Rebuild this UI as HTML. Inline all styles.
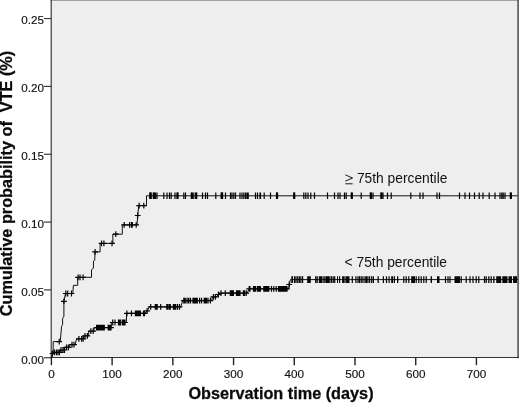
<!DOCTYPE html>
<html><head><meta charset="utf-8"><title>Cumulative probability of VTE</title>
<style>
html,body{margin:0;padding:0;background:#fff;}
body{width:520px;height:404px;overflow:hidden;font-family:"Liberation Sans",sans-serif;}
svg{display:block;will-change:transform;}
text{font-family:"Liberation Sans",sans-serif;fill:#111;}
.tk{font-size:11.7px;stroke:#111;stroke-width:0.15px;}
.lb{font-size:13.8px;}
.ti{font-size:16.25px;font-weight:bold;fill:#0a0a0a;stroke:#0a0a0a;stroke-width:0.28px;}
.ax{stroke:#333;stroke-width:1.15;fill:none;}
.ln{stroke:#111;stroke-width:1.0;fill:none;stroke-linejoin:miter;}
.mk{stroke:#050505;stroke-width:1.2;fill:none;}
.mk2{stroke:#000;stroke-width:2.2;fill:none;}
</style></head><body>
<svg width="520" height="404" viewBox="0 0 520 404">
<rect x="0" y="0" width="520" height="404" fill="#ffffff"/>
<rect x="51.2" y="0" width="467" height="357.5" fill="#eeeeee"/>
<line x1="50.5" x2="519" y1="0.3" y2="0.3" stroke="#888" stroke-width="1.1"/>
<line x1="518.1" x2="518.1" y1="0" y2="358.2" stroke="#555" stroke-width="1.6"/>
<line x1="51.2" x2="51.2" y1="0" y2="358.2" class="ax"/>
<line x1="50.5" x2="518.9" y1="357.5" y2="357.5" class="ax"/>
<line x1="44" x2="51.5" y1="357.75" y2="357.75" class="ax"/>
<text x="43.9" y="364.00" text-anchor="end" class="tk">0.00</text>
<line x1="44" x2="51.5" y1="289.91" y2="289.91" class="ax"/>
<text x="43.9" y="295.56" text-anchor="end" class="tk">0.05</text>
<line x1="44" x2="51.5" y1="222.07" y2="222.07" class="ax"/>
<text x="43.9" y="227.72" text-anchor="end" class="tk">0.10</text>
<line x1="44" x2="51.5" y1="154.23" y2="154.23" class="ax"/>
<text x="43.9" y="159.88" text-anchor="end" class="tk">0.15</text>
<line x1="44" x2="51.5" y1="86.39" y2="86.39" class="ax"/>
<text x="43.9" y="92.04" text-anchor="end" class="tk">0.20</text>
<line x1="44" x2="51.5" y1="18.55" y2="18.55" class="ax"/>
<text x="43.9" y="24.20" text-anchor="end" class="tk">0.25</text>
<line x1="51.40" x2="51.40" y1="357.5" y2="365.2" class="ax" style="stroke:#222;stroke-width:1.4"/>
<text x="51.40" y="377.8" text-anchor="middle" class="tk">0</text>
<line x1="112.12" x2="112.12" y1="357.5" y2="365.2" class="ax" style="stroke:#222;stroke-width:1.4"/>
<text x="112.12" y="377.8" text-anchor="middle" class="tk">100</text>
<line x1="172.84" x2="172.84" y1="357.5" y2="365.2" class="ax" style="stroke:#222;stroke-width:1.4"/>
<text x="172.84" y="377.8" text-anchor="middle" class="tk">200</text>
<line x1="233.56" x2="233.56" y1="357.5" y2="365.2" class="ax" style="stroke:#222;stroke-width:1.4"/>
<text x="233.56" y="377.8" text-anchor="middle" class="tk">300</text>
<line x1="294.28" x2="294.28" y1="357.5" y2="365.2" class="ax" style="stroke:#222;stroke-width:1.4"/>
<text x="294.28" y="377.8" text-anchor="middle" class="tk">400</text>
<line x1="355.00" x2="355.00" y1="357.5" y2="365.2" class="ax" style="stroke:#222;stroke-width:1.4"/>
<text x="355.00" y="377.8" text-anchor="middle" class="tk">500</text>
<line x1="415.72" x2="415.72" y1="357.5" y2="365.2" class="ax" style="stroke:#222;stroke-width:1.4"/>
<text x="415.72" y="377.8" text-anchor="middle" class="tk">600</text>
<line x1="476.44" x2="476.44" y1="357.5" y2="365.2" class="ax" style="stroke:#222;stroke-width:1.4"/>
<text x="476.44" y="377.8" text-anchor="middle" class="tk">700</text>
<path d="M51.5,357.5 L53.2,353.0 L53.2,341.6 L60.2,341.6 L61.2,331.0 L61.5,326.5 L62.6,324.5 L62.6,318.5 L63.9,316.2 L63.9,301.4 L65.5,293.5 L72.8,293.5 L73.4,285.3 L77.7,285.3 L77.7,277.3 L91.5,277.3 L91.5,270.0 L93.4,268.0 L93.5,261.0 L94.7,260.3 L95.1,251.9 L100.1,251.9 L100.1,243.4 L113.0,243.4 L112.8,234.2 L122.3,234.2 L122.3,224.9 L137.0,224.9 L137.7,215.5 L138.5,208.0 L138.7,205.6 L146.5,205.6 L146.5,195.8 L518.0,195.8" class="ln"/>
<path d="M51.5,357.5 L52.3,355.0 L53.5,352.3 L60.0,352.3 L60.3,350.0 L64.5,350.0 L64.8,347.3 L69.5,347.3 L69.8,344.6 L75.1,344.6 L76.6,338.9 L83.5,338.9 L83.7,335.8 L88.5,335.8 L88.8,331.2 L93.9,331.2 L94.2,327.7 L111.0,327.7 L111.5,322.5 L126.3,322.5 L126.7,313.3 L145.0,313.3 L147.2,310.8 L149.5,306.9 L180.8,306.9 L182.7,300.6 L211.8,300.6 L212.3,296.9 L216.5,296.9 L218.4,294.5 L219.5,293.1 L247.0,293.1 L249.2,288.8 L288.5,288.8 L290.4,279.6 L518.0,279.6" class="ln"/>
<path d="M56.3,341.6h5.8M59.2,338.7v5.8M61.0,301.4h5.8M63.9,298.5v5.8M62.9,293.5h5.8M65.8,290.6v5.8M64.8,293.5h5.8M67.7,290.6v5.8M68.6,293.5h5.8M71.5,290.6v5.8M75.2,277.3h5.8M78.1,274.4v5.8M77.1,277.3h5.8M80.0,274.4v5.8M80.2,277.3h5.8M83.1,274.4v5.8M92.2,251.9h5.8M95.1,249.0v5.8M98.7,243.4h5.8M101.6,240.5v5.8M101.0,243.4h5.8M103.9,240.5v5.8M109.1,243.4h5.8M112.0,240.5v5.8M112.9,234.2h5.8M115.8,231.3v5.8M121.3,224.9h5.8M124.2,222.0v5.8M126.7,224.9h5.8M129.6,222.0v5.8M128.6,224.9h5.8M131.5,222.0v5.8M129.4,224.9h5.8M132.3,222.0v5.8M133.3,224.9h5.8M136.2,222.0v5.8M134.8,215.5h5.8M137.7,212.6v5.8M136.3,205.6h5.8M139.2,202.7v5.8M140.9,205.6h5.8M143.8,202.7v5.8M49.6,353.5h5.8M52.5,350.6v5.8M51.6,352.3h5.8M54.5,349.4v5.8M53.6,352.3h5.8M56.5,349.4v5.8M55.1,352.3h5.8M58.0,349.4v5.8M56.6,352.3h5.8M59.5,349.4v5.8M58.1,350.0h5.8M61.0,347.1v5.8M60.1,350.0h5.8M63.0,347.1v5.8M61.6,350.0h5.8M64.5,347.1v5.8M63.6,347.3h5.8M66.5,344.4v5.8M65.5,347.3h5.8M68.4,344.4v5.8M69.1,344.6h5.8M72.0,341.7v5.8M71.1,344.6h5.8M74.0,341.7v5.8M76.0,338.9h5.8M78.9,336.0v5.8M78.7,338.9h5.8M81.6,336.0v5.8M80.3,338.9h5.8M83.2,336.0v5.8M82.1,335.8h5.8M85.0,332.9v5.8M84.5,335.8h5.8M87.4,332.9v5.8M87.9,331.2h5.8M90.8,328.3v5.8M90.3,331.2h5.8M93.2,328.3v5.8M93.7,327.7h5.8M96.6,324.8v5.8M94.7,327.7h5.8M97.6,324.8v5.8M95.7,327.7h5.8M98.6,324.8v5.8M96.7,327.7h5.8M99.6,324.8v5.8M97.7,327.7h5.8M100.6,324.8v5.8M98.7,327.7h5.8M101.6,324.8v5.8M99.7,327.7h5.8M102.6,324.8v5.8M100.7,327.7h5.8M103.6,324.8v5.8M101.4,327.7h5.8M104.3,324.8v5.8M105.3,327.7h5.8M108.2,324.8v5.8M106.3,327.7h5.8M109.2,324.8v5.8M107.3,327.7h5.8M110.2,324.8v5.8M108.1,327.7h5.8M111.0,324.8v5.8M109.8,322.5h5.8M112.7,319.6v5.8M112.1,322.5h5.8M115.0,319.6v5.8M115.6,322.5h5.8M118.5,319.6v5.8M116.5,322.5h5.8M119.4,319.6v5.8M117.5,322.5h5.8M120.4,319.6v5.8M119.4,322.5h5.8M122.3,319.6v5.8M120.3,322.5h5.8M123.2,319.6v5.8M121.2,322.5h5.8M124.1,319.6v5.8M122.1,322.5h5.8M125.0,319.6v5.8M124.0,313.3h5.8M126.9,310.4v5.8M128.6,313.3h5.8M131.5,310.4v5.8M132.5,313.3h5.8M135.4,310.4v5.8M133.5,313.3h5.8M136.4,310.4v5.8M134.5,313.3h5.8M137.4,310.4v5.8M135.5,313.3h5.8M138.4,310.4v5.8M136.5,313.3h5.8M139.4,310.4v5.8M137.5,313.3h5.8M140.4,310.4v5.8M140.6,313.3h5.8M143.5,310.4v5.8M141.6,313.3h5.8M144.5,310.4v5.8M144.3,310.8h5.8M147.2,307.9v5.8M147.8,306.9h5.8M150.7,304.0v5.8M152.4,306.9h5.8M155.3,304.0v5.8M153.3,306.9h5.8M156.2,304.0v5.8M154.3,306.9h5.8M157.2,304.0v5.8M157.8,306.9h5.8M160.7,304.0v5.8M163.9,306.9h5.8M166.8,304.0v5.8M164.9,306.9h5.8M167.8,304.0v5.8M166.4,306.9h5.8M169.3,304.0v5.8M167.4,306.9h5.8M170.3,304.0v5.8M170.5,306.9h5.8M173.4,304.0v5.8M171.6,306.9h5.8M174.5,304.0v5.8M172.8,306.9h5.8M175.7,304.0v5.8M174.6,306.9h5.8M177.5,304.0v5.8M176.6,306.9h5.8M179.5,304.0v5.8M180.9,300.6h5.8M183.8,297.7v5.8M181.7,300.6h5.8M184.6,297.7v5.8M183.1,300.6h5.8M186.0,297.7v5.8M185.0,300.6h5.8M187.9,297.7v5.8M185.9,300.6h5.8M188.8,297.7v5.8M187.6,300.6h5.8M190.5,297.7v5.8M190.1,300.6h5.8M193.0,297.7v5.8M191.1,300.6h5.8M194.0,297.7v5.8M192.1,300.6h5.8M195.0,297.7v5.8M193.3,300.6h5.8M196.2,297.7v5.8M194.4,300.6h5.8M197.3,297.7v5.8M196.7,300.6h5.8M199.6,297.7v5.8M198.6,300.6h5.8M201.5,297.7v5.8M201.3,300.6h5.8M204.2,297.7v5.8M202.4,300.6h5.8M205.3,297.7v5.8M203.6,300.6h5.8M206.5,297.7v5.8M205.1,300.6h5.8M208.0,297.7v5.8M207.5,300.6h5.8M210.4,297.7v5.8M210.5,296.9h5.8M213.4,294.0v5.8M212.4,296.9h5.8M215.3,294.0v5.8M215.5,294.5h5.8M218.4,291.6v5.8M218.1,293.1h5.8M221.0,290.2v5.8M222.4,293.1h5.8M225.3,290.2v5.8M227.4,293.1h5.8M230.3,290.2v5.8M228.4,293.1h5.8M231.3,290.2v5.8M229.5,293.1h5.8M232.4,290.2v5.8M230.5,293.1h5.8M233.4,290.2v5.8M233.6,293.1h5.8M236.5,290.2v5.8M234.7,293.1h5.8M237.6,290.2v5.8M235.9,293.1h5.8M238.8,290.2v5.8M237.1,293.1h5.8M240.0,290.2v5.8M240.5,293.1h5.8M243.4,290.2v5.8M241.6,293.1h5.8M244.5,290.2v5.8M243.3,293.1h5.8M246.2,290.2v5.8M246.3,288.8h5.8M249.2,285.9v5.8M247.1,288.8h5.8M250.0,285.9v5.8M250.6,288.8h5.8M253.5,285.9v5.8M251.5,288.8h5.8M254.4,285.9v5.8M252.5,288.8h5.8M255.4,285.9v5.8M254.4,288.8h5.8M257.3,285.9v5.8M255.4,288.8h5.8M258.3,285.9v5.8M256.4,288.8h5.8M259.3,285.9v5.8M257.5,288.8h5.8M260.4,285.9v5.8M260.9,288.8h5.8M263.8,285.9v5.8M261.9,288.8h5.8M264.8,285.9v5.8M262.9,288.8h5.8M265.8,285.9v5.8M263.9,288.8h5.8M266.8,285.9v5.8M264.9,288.8h5.8M267.8,285.9v5.8M265.9,288.8h5.8M268.8,285.9v5.8M268.6,288.8h5.8M271.5,285.9v5.8M270.9,288.8h5.8M273.8,285.9v5.8M273.3,288.8h5.8M276.2,285.9v5.8M275.6,288.8h5.8M278.5,285.9v5.8M276.7,288.8h5.8M279.6,285.9v5.8M277.8,288.8h5.8M280.7,285.9v5.8M278.9,288.8h5.8M281.8,285.9v5.8M280.0,288.8h5.8M282.9,285.9v5.8M281.1,288.8h5.8M284.0,285.9v5.8M282.2,288.8h5.8M285.1,285.9v5.8M283.3,288.8h5.8M286.2,285.9v5.8M284.1,288.8h5.8M287.0,285.9v5.8M286.3,284.5h5.8M289.2,281.6v5.8M150.0,192.5v6.6M151.0,192.5v6.6M153.8,192.5v6.6M155.5,192.5v6.6M157.0,192.5v6.6M163.8,192.5v6.6M167.0,192.5v6.6M169.5,192.5v6.6M171.2,192.5v6.6M175.0,192.5v6.6M177.5,192.5v6.6M183.8,192.5v6.6M185.5,192.5v6.6M191.8,192.5v6.6M193.8,192.5v6.6M196.2,192.5v6.6M202.5,192.5v6.6M205.5,192.5v6.6M207.5,192.5v6.6M215.8,192.5v6.6M221.2,192.5v6.6M222.5,192.5v6.6M225.5,192.5v6.6M230.5,192.5v6.6M232.0,192.5v6.6M233.8,192.5v6.6M235.5,192.5v6.6M240.0,192.5v6.6M242.0,192.5v6.6M243.8,192.5v6.6M245.5,192.5v6.6M247.0,192.5v6.6M248.2,192.5v6.6M255.5,192.5v6.6M257.5,192.5v6.6M260.0,192.5v6.6M264.2,192.5v6.6M260.5,192.5v6.6M264.2,192.5v6.6M270.5,192.5v6.6M277.0,192.5v6.6M294.2,192.5v6.6M303.8,192.5v6.6M305.8,192.5v6.6M308.0,192.5v6.6M310.8,192.5v6.6M314.5,192.5v6.6M327.5,192.5v6.6M334.5,192.5v6.6M338.0,192.5v6.6M340.0,192.5v6.6M344.5,192.5v6.6M346.2,192.5v6.6M351.8,192.5v6.6M361.2,192.5v6.6M370.8,192.5v6.6M373.0,192.5v6.6M381.2,192.5v6.6M383.0,192.5v6.6M387.5,192.5v6.6M391.2,192.5v6.6M410.8,192.5v6.6M420.0,192.5v6.6M423.0,192.5v6.6M437.0,192.5v6.6M439.5,192.5v6.6M459.5,192.5v6.6M465.0,192.5v6.6M469.5,192.5v6.6M474.5,192.5v6.6M479.2,192.5v6.6M483.0,192.5v6.6M489.2,192.5v6.6M495.0,192.5v6.6M500.0,192.5v6.6M501.8,192.5v6.6M503.2,192.5v6.6M505.0,192.5v6.6M510.8,192.5v6.6" class="mk"/>
<path d="M150.5,192.5v6.6M153.8,192.5v6.6M177.5,192.5v6.6M191.8,192.5v6.6M196.2,192.5v6.6M222.0,192.5v6.6M277.0,192.5v6.6M294.2,192.5v6.6M351.8,192.5v6.6M370.8,192.5v6.6M381.5,192.5v6.6M510.8,192.5v6.6" class="mk2"/>
<path d="M294.5,276.3v6.6M296.0,276.3v6.6M297.7,276.3v6.6M299.4,276.3v6.6M300.9,276.3v6.6M302.6,276.3v6.6M315.7,276.3v6.6M317.2,276.3v6.6M323.1,276.3v6.6M324.8,276.3v6.6M326.3,276.3v6.6M327.4,276.3v6.6M328.4,276.3v6.6M329.8,276.3v6.6M331.5,276.3v6.6M333.2,276.3v6.6M334.7,276.3v6.6M339.6,276.3v6.6M352.3,276.3v6.6M355.9,276.3v6.6M358.0,276.3v6.6M359.5,276.3v6.6M361.2,276.3v6.6M362.9,276.3v6.6M365.0,276.3v6.6M366.4,276.3v6.6M367.9,276.3v6.6M369.6,276.3v6.6M371.7,276.3v6.6M373.4,276.3v6.6M383.4,276.3v6.6M386.5,276.3v6.6M389.1,276.3v6.6M391.8,276.3v6.6M394.4,276.3v6.6M392.5,276.3v6.6M403.8,276.3v6.6M406.2,276.3v6.6M408.8,276.3v6.6M416.2,276.3v6.6M418.8,276.3v6.6M421.2,276.3v6.6M423.8,276.3v6.6M426.2,276.3v6.6M445.5,276.3v6.6M448.0,276.3v6.6M450.0,276.3v6.6M461.2,276.3v6.6M466.2,276.3v6.6M470.0,276.3v6.6M473.0,276.3v6.6M476.2,276.3v6.6M478.8,276.3v6.6M484.5,276.3v6.6M486.2,276.3v6.6M491.2,276.3v6.6" class="mk"/>
<path d="M291.3,276.3h1.7v6.6h-1.7zM307.2,276.3h3.6v6.6h-3.6zM318.8,276.3h3.2v6.6h-3.2zM337.0,276.3h1.0v6.6h-1.0zM342.1,276.3h2.6v6.6h-2.6zM345.4,276.3h4.1v6.6h-4.1zM377.5,276.3h1.3v6.6h-1.3zM397.0,276.3h1.3v6.6h-1.3zM411.2,276.3h3.8v6.6h-3.8zM430.6,276.3h1.4v6.6h-1.4zM437.0,276.3h2.5v6.6h-2.5zM454.5,276.3h5.5v6.6h-5.5zM488.2,276.3h1.3v6.6h-1.3zM493.2,276.3h1.3v6.6h-1.3zM496.2,276.3h5.0v6.6h-5.0zM502.3,276.3h5.2v6.6h-5.2zM508.5,276.3h3.5v6.6h-3.5zM513.0,276.3h4.0v6.6h-4.0z" fill="#080808" stroke="none"/>
<path d="M345.3,174.9 L352.6,178 L345.3,181.1 M345.3,183.8 H352.6" stroke="#111" stroke-width="0.95" fill="none"/>
<text x="356.9" y="183.2" class="lb">75th percentile</text>
<text x="344.6" y="266.5" class="lb">&lt; 75th percentile</text>
<text x="281" y="399.0" text-anchor="middle" class="ti">Observation time (days)</text>
<text transform="translate(12.0,183.5) rotate(-90)" text-anchor="middle" class="ti" xml:space="preserve">Cumulative probability of  VTE (%)</text>
</svg>
</body></html>
